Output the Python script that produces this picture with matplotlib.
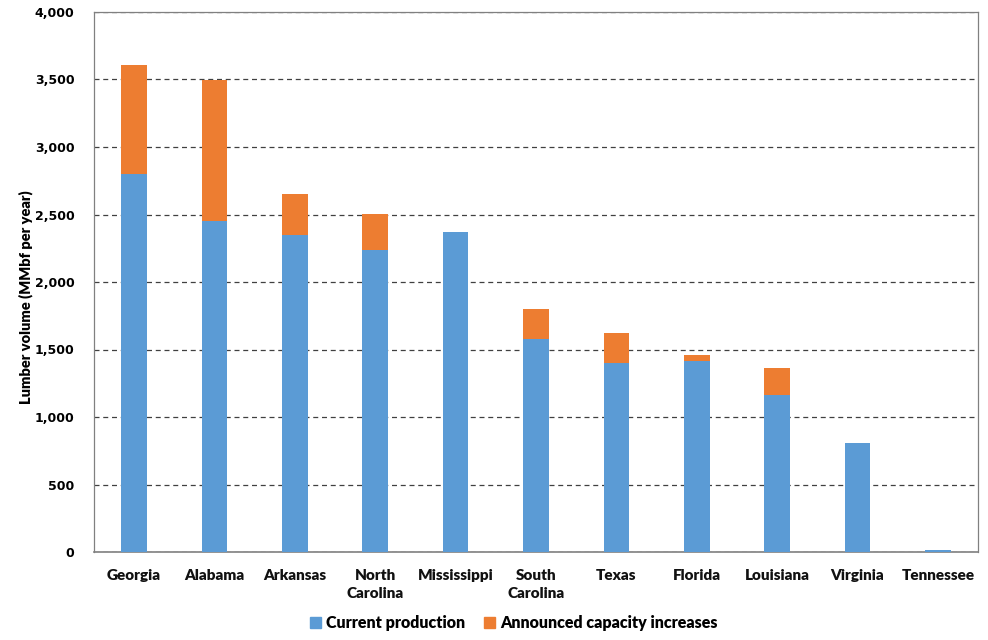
import matplotlib
matplotlib.use("Agg")
import matplotlib.pyplot as plt
from matplotlib.ticker import FuncFormatter, MultipleLocator
from matplotlib.patches import Patch

states = ["Georgia", "Alabama", "Arkansas", "North\nCarolina", "Mississippi",
          "South\nCarolina", "Texas", "Florida", "Louisiana", "Virginia", "Tennessee"]
current = [2800, 2450, 2350, 2240, 2370, 1580, 1400, 1415, 1160, 805, 15]
announced = [810, 1050, 300, 260, 0, 220, 220, 45, 205, 0, 0]

blue = "#5B9BD5"
orange = "#ED7D31"

fig = plt.figure(figsize=(9.88, 6.4), dpi=100)
ax = fig.add_axes([0.0951, 0.1375, 0.8948, 0.84375])

x = list(range(len(states)))
ax.bar(x, current, width=0.32, color=blue, linewidth=0,
       label="Current production", zorder=3)
ax.bar(x, announced, width=0.32, bottom=current, color=orange, linewidth=0,
       label="Announced capacity increases", zorder=3)

ax.set_xlim(-0.5, len(states) - 0.5)
ax.set_ylim(0, 4000)
ax.yaxis.set_major_locator(MultipleLocator(500))
ax.yaxis.set_major_formatter(FuncFormatter(lambda v, p: f"{int(v):,}"))
ax.grid(axis="y", linestyle=(0, (4, 3)), color="#404040", linewidth=0.9, zorder=0)
ax.set_axisbelow(True)

for s in ["left", "top", "right"]:
    ax.spines[s].set_color("#808080")
    ax.spines[s].set_linewidth(0.9)
ax.spines["bottom"].set_color("#808080")
ax.spines["bottom"].set_linewidth(1.2)

ax.tick_params(axis="both", length=0)
ax.set_xticks(x)
ax.set_xticklabels(states, fontweight="heavy", fontsize=11, linespacing=1.45, va="top",
                   family="Lato", color="#111111")
ax.tick_params(axis="x", pad=12)
for lab in ax.get_yticklabels():
    lab.set_fontweight("bold")
    lab.set_fontsize(9)
ax.tick_params(axis="y", pad=14)
ax.set_ylabel("Lumber volume (MMbf per year)", fontsize=10.5, fontweight="heavy",
              family="Lato")
ax.yaxis.set_label_coords(-0.069, 0.472)

handles = [Patch(color=blue, label="Current production"),
           Patch(color=orange, label="Announced capacity increases")]
leg = fig.legend(handles=handles, loc="lower center", bbox_to_anchor=(0.52, -0.008), ncol=2,
                 frameon=False, handlelength=0.7, handleheight=0.7, handletextpad=0.3,
                 columnspacing=1.2, prop={"weight": "heavy", "size": 11.5, "family": "Lato"})

fig.savefig("out.png", dpi=100)
